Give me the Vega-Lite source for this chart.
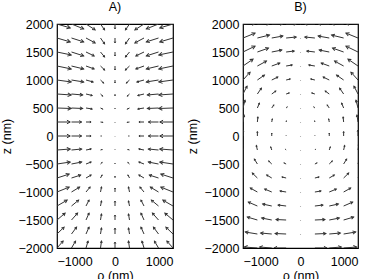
{
  "$schema": "https://vega.github.io/schema/vega-lite/v6.json",
  "padding": {"left": 0, "top": -1, "right": 5, "bottom": 0},
  "spacing": 12,
  "config": {
    "font": "Liberation Sans",
    "view": {"stroke": "#000", "strokeWidth": 1.2},
    "axis": {
      "grid": false, "ticks": false, "domain": false, "format": "d",
      "labelFont": "Liberation Sans", "labelFontSize": 12.5, "labelColor": "#000",
      "titleFont": "Liberation Sans", "titleFontSize": 12.5, "titleFontWeight": "normal", "titleColor": "#000"
    },
    "title": {"font": "Liberation Sans", "fontSize": 12.5, "fontWeight": "normal", "color": "#000", "offset": 5}
  },
  "datasets": {
    "field": [
      {"p":"A","r":-1000,"z":2000,"u":13,"w":-4},{"p":"A","r":-750,"z":2000,"u":12,"w":-5},{"p":"A","r":-500,"z":2000,"u":9,"w":-6},{"p":"A","r":-250,"z":2000,"u":4,"w":-6},{"p":"A","r":0,"z":2000,"u":0,"w":-5},{"p":"A","r":250,"z":2000,"u":-4,"w":-6},{"p":"A","r":500,"z":2000,"u":-9,"w":-6},{"p":"A","r":750,"z":2000,"u":-12,"w":-5},{"p":"A","r":1000,"z":2000,"u":-13,"w":-4},
      {"p":"A","r":-1000,"z":1750,"u":13,"w":-4},{"p":"A","r":-750,"z":1750,"u":12,"w":-4},{"p":"A","r":-500,"z":1750,"u":9,"w":-5},{"p":"A","r":-250,"z":1750,"u":4,"w":-6},{"p":"A","r":0,"z":1750,"u":0,"w":-5},{"p":"A","r":250,"z":1750,"u":-4,"w":-6},{"p":"A","r":500,"z":1750,"u":-9,"w":-5},{"p":"A","r":750,"z":1750,"u":-12,"w":-4},{"p":"A","r":1000,"z":1750,"u":-13,"w":-4},
      {"p":"A","r":-1000,"z":1500,"u":14,"w":-3},{"p":"A","r":-750,"z":1500,"u":12,"w":-4},{"p":"A","r":-500,"z":1500,"u":8,"w":-4},{"p":"A","r":-250,"z":1500,"u":4,"w":-5},{"p":"A","r":0,"z":1500,"u":0,"w":-4},{"p":"A","r":250,"z":1500,"u":-4,"w":-5},{"p":"A","r":500,"z":1500,"u":-8,"w":-4},{"p":"A","r":750,"z":1500,"u":-12,"w":-4},{"p":"A","r":1000,"z":1500,"u":-14,"w":-3},
      {"p":"A","r":-1000,"z":1250,"u":14,"w":-3},{"p":"A","r":-750,"z":1250,"u":12,"w":-3},{"p":"A","r":-500,"z":1250,"u":8,"w":-3},{"p":"A","r":-250,"z":1250,"u":4,"w":-4},{"p":"A","r":0,"z":1250,"u":0,"w":-4},{"p":"A","r":250,"z":1250,"u":-4,"w":-4},{"p":"A","r":500,"z":1250,"u":-8,"w":-3},{"p":"A","r":750,"z":1250,"u":-12,"w":-3},{"p":"A","r":1000,"z":1250,"u":-14,"w":-3},
      {"p":"A","r":-1000,"z":1000,"u":14,"w":-2},{"p":"A","r":-750,"z":1000,"u":12,"w":-2},{"p":"A","r":-500,"z":1000,"u":7,"w":-2},{"p":"A","r":-250,"z":1000,"u":3,"w":-3},{"p":"A","r":0,"z":1000,"u":0,"w":-3},{"p":"A","r":250,"z":1000,"u":-3,"w":-3},{"p":"A","r":500,"z":1000,"u":-7,"w":-2},{"p":"A","r":750,"z":1000,"u":-12,"w":-2},{"p":"A","r":1000,"z":1000,"u":-14,"w":-2},
      {"p":"A","r":-1000,"z":750,"u":14,"w":-1},{"p":"A","r":-750,"z":750,"u":11,"w":-1},{"p":"A","r":-500,"z":750,"u":6,"w":-1.5},{"p":"A","r":-250,"z":750,"u":2,"w":-2},{"p":"A","r":0,"z":750,"u":0,"w":-2},{"p":"A","r":250,"z":750,"u":-2,"w":-2},{"p":"A","r":500,"z":750,"u":-6,"w":-1.5},{"p":"A","r":750,"z":750,"u":-11,"w":-1},{"p":"A","r":1000,"z":750,"u":-14,"w":-1},
      {"p":"A","r":-1000,"z":500,"u":14,"w":-0.5},{"p":"A","r":-750,"z":500,"u":11,"w":-0.5},{"p":"A","r":-500,"z":500,"u":6,"w":-1},{"p":"A","r":-250,"z":500,"u":2,"w":-1},{"p":"A","r":0,"z":500,"u":0,"w":-1},{"p":"A","r":250,"z":500,"u":-2,"w":-1},{"p":"A","r":500,"z":500,"u":-6,"w":-1},{"p":"A","r":750,"z":500,"u":-11,"w":-0.5},{"p":"A","r":1000,"z":500,"u":-14,"w":-0.5},
      {"p":"A","r":-1000,"z":250,"u":13,"w":0},{"p":"A","r":-750,"z":250,"u":10,"w":0},{"p":"A","r":-500,"z":250,"u":5,"w":0},{"p":"A","r":-250,"z":250,"u":2,"w":-0.3},{"p":"A","r":0,"z":250,"u":0,"w":-0.5},{"p":"A","r":250,"z":250,"u":-2,"w":-0.3},{"p":"A","r":500,"z":250,"u":-5,"w":0},{"p":"A","r":750,"z":250,"u":-10,"w":0},{"p":"A","r":1000,"z":250,"u":-13,"w":0},
      {"p":"A","r":-1000,"z":0,"u":13,"w":0},{"p":"A","r":-750,"z":0,"u":10,"w":0},{"p":"A","r":-500,"z":0,"u":5,"w":0},{"p":"A","r":-250,"z":0,"u":1,"w":0},{"p":"A","r":0,"z":0,"u":0,"w":-0.3},{"p":"A","r":250,"z":0,"u":-1,"w":0},{"p":"A","r":500,"z":0,"u":-5,"w":0},{"p":"A","r":750,"z":0,"u":-10,"w":0},{"p":"A","r":1000,"z":0,"u":-13,"w":0},
      {"p":"A","r":-1000,"z":-250,"u":13,"w":1},{"p":"A","r":-750,"z":-250,"u":10,"w":1},{"p":"A","r":-500,"z":-250,"u":5,"w":1},{"p":"A","r":-250,"z":-250,"u":1.5,"w":0.5},{"p":"A","r":0,"z":-250,"u":0,"w":0.5},{"p":"A","r":250,"z":-250,"u":-1.5,"w":0.5},{"p":"A","r":500,"z":-250,"u":-5,"w":1},{"p":"A","r":750,"z":-250,"u":-10,"w":1},{"p":"A","r":1000,"z":-250,"u":-13,"w":1},
      {"p":"A","r":-1000,"z":-500,"u":13,"w":2},{"p":"A","r":-750,"z":-500,"u":10,"w":2},{"p":"A","r":-500,"z":-500,"u":5,"w":2},{"p":"A","r":-250,"z":-500,"u":1.5,"w":1.5},{"p":"A","r":0,"z":-500,"u":0,"w":1},{"p":"A","r":250,"z":-500,"u":-1.5,"w":1.5},{"p":"A","r":500,"z":-500,"u":-5,"w":2},{"p":"A","r":750,"z":-500,"u":-10,"w":2},{"p":"A","r":1000,"z":-500,"u":-13,"w":2},
      {"p":"A","r":-1000,"z":-750,"u":12,"w":4},{"p":"A","r":-750,"z":-750,"u":9,"w":3},{"p":"A","r":-500,"z":-750,"u":5,"w":3},{"p":"A","r":-250,"z":-750,"u":1.5,"w":3},{"p":"A","r":0,"z":-750,"u":0,"w":2},{"p":"A","r":250,"z":-750,"u":-1.5,"w":3},{"p":"A","r":500,"z":-750,"u":-5,"w":3},{"p":"A","r":750,"z":-750,"u":-9,"w":3},{"p":"A","r":1000,"z":-750,"u":-12,"w":4},
      {"p":"A","r":-1000,"z":-1000,"u":12,"w":5},{"p":"A","r":-750,"z":-1000,"u":8,"w":5},{"p":"A","r":-500,"z":-1000,"u":4,"w":5},{"p":"A","r":-250,"z":-1000,"u":1,"w":5},{"p":"A","r":0,"z":-1000,"u":0,"w":4},{"p":"A","r":250,"z":-1000,"u":-1,"w":5},{"p":"A","r":500,"z":-1000,"u":-4,"w":5},{"p":"A","r":750,"z":-1000,"u":-8,"w":5},{"p":"A","r":1000,"z":-1000,"u":-12,"w":5},
      {"p":"A","r":-1000,"z":-1250,"u":10,"w":6},{"p":"A","r":-750,"z":-1250,"u":7,"w":6},{"p":"A","r":-500,"z":-1250,"u":3,"w":6},{"p":"A","r":-250,"z":-1250,"u":1,"w":5},{"p":"A","r":0,"z":-1250,"u":0,"w":5},{"p":"A","r":250,"z":-1250,"u":-1,"w":5},{"p":"A","r":500,"z":-1250,"u":-3,"w":6},{"p":"A","r":750,"z":-1250,"u":-7,"w":6},{"p":"A","r":1000,"z":-1250,"u":-10,"w":6},
      {"p":"A","r":-1000,"z":-1500,"u":8,"w":7},{"p":"A","r":-750,"z":-1500,"u":6,"w":7},{"p":"A","r":-500,"z":-1500,"u":3,"w":7},{"p":"A","r":-250,"z":-1500,"u":1,"w":6},{"p":"A","r":0,"z":-1500,"u":0,"w":5},{"p":"A","r":250,"z":-1500,"u":-1,"w":6},{"p":"A","r":500,"z":-1500,"u":-3,"w":7},{"p":"A","r":750,"z":-1500,"u":-6,"w":7},{"p":"A","r":1000,"z":-1500,"u":-8,"w":7},
      {"p":"A","r":-1000,"z":-1750,"u":7,"w":7},{"p":"A","r":-750,"z":-1750,"u":5,"w":7},{"p":"A","r":-500,"z":-1750,"u":3,"w":7},{"p":"A","r":-250,"z":-1750,"u":1,"w":6},{"p":"A","r":0,"z":-1750,"u":0,"w":6},{"p":"A","r":250,"z":-1750,"u":-1,"w":6},{"p":"A","r":500,"z":-1750,"u":-3,"w":7},{"p":"A","r":750,"z":-1750,"u":-5,"w":7},{"p":"A","r":1000,"z":-1750,"u":-7,"w":7},
      {"p":"A","r":-1000,"z":-2000,"u":6,"w":7},{"p":"A","r":-750,"z":-2000,"u":4,"w":7},{"p":"A","r":-500,"z":-2000,"u":2,"w":7},{"p":"A","r":-250,"z":-2000,"u":1,"w":7},{"p":"A","r":0,"z":-2000,"u":0,"w":6},{"p":"A","r":250,"z":-2000,"u":-1,"w":7},{"p":"A","r":500,"z":-2000,"u":-2,"w":7},{"p":"A","r":750,"z":-2000,"u":-4,"w":7},{"p":"A","r":1000,"z":-2000,"u":-6,"w":7},

      {"p":"B","r":-1000,"z":2000,"u":12,"w":0.5},{"p":"B","r":-750,"z":2000,"u":12,"w":0.5},{"p":"B","r":-500,"z":2000,"u":11,"w":0.3},{"p":"B","r":-250,"z":2000,"u":10,"w":0.2},{"p":"B","r":0,"z":2000,"u":0,"w":-0.3},{"p":"B","r":250,"z":2000,"u":-10,"w":0.2},{"p":"B","r":500,"z":2000,"u":-11,"w":0.3},{"p":"B","r":750,"z":2000,"u":-12,"w":0.5},{"p":"B","r":1000,"z":2000,"u":-12,"w":0.5},
      {"p":"B","r":-1000,"z":1750,"u":12,"w":5},{"p":"B","r":-750,"z":1750,"u":12,"w":3},{"p":"B","r":-500,"z":1750,"u":11,"w":2},{"p":"B","r":-250,"z":1750,"u":10,"w":1},{"p":"B","r":0,"z":1750,"u":0,"w":-0.3},{"p":"B","r":250,"z":1750,"u":-10,"w":1},{"p":"B","r":500,"z":1750,"u":-11,"w":2},{"p":"B","r":750,"z":1750,"u":-12,"w":3},{"p":"B","r":1000,"z":1750,"u":-12,"w":5},
      {"p":"B","r":-1000,"z":1500,"u":12,"w":6},{"p":"B","r":-750,"z":1500,"u":11,"w":4},{"p":"B","r":-500,"z":1500,"u":10,"w":2},{"p":"B","r":-250,"z":1500,"u":8,"w":1},{"p":"B","r":0,"z":1500,"u":0,"w":-0.3},{"p":"B","r":250,"z":1500,"u":-8,"w":1},{"p":"B","r":500,"z":1500,"u":-10,"w":2},{"p":"B","r":750,"z":1500,"u":-11,"w":4},{"p":"B","r":1000,"z":1500,"u":-12,"w":6},
      {"p":"B","r":-1000,"z":1250,"u":10,"w":7},{"p":"B","r":-750,"z":1250,"u":9,"w":5},{"p":"B","r":-500,"z":1250,"u":8,"w":3},{"p":"B","r":-250,"z":1250,"u":6,"w":1},{"p":"B","r":0,"z":1250,"u":0,"w":-0.3},{"p":"B","r":250,"z":1250,"u":-6,"w":1},{"p":"B","r":500,"z":1250,"u":-8,"w":3},{"p":"B","r":750,"z":1250,"u":-9,"w":5},{"p":"B","r":1000,"z":1250,"u":-10,"w":7},
      {"p":"B","r":-1000,"z":1000,"u":7,"w":8},{"p":"B","r":-750,"z":1000,"u":7,"w":5},{"p":"B","r":-500,"z":1000,"u":6,"w":3},{"p":"B","r":-250,"z":1000,"u":4,"w":1},{"p":"B","r":0,"z":1000,"u":0,"w":-0.3},{"p":"B","r":250,"z":1000,"u":-4,"w":1},{"p":"B","r":500,"z":1000,"u":-6,"w":3},{"p":"B","r":750,"z":1000,"u":-7,"w":5},{"p":"B","r":1000,"z":1000,"u":-7,"w":8},
      {"p":"B","r":-1000,"z":750,"u":4,"w":8},{"p":"B","r":-750,"z":750,"u":4,"w":6},{"p":"B","r":-500,"z":750,"u":4,"w":3},{"p":"B","r":-250,"z":750,"u":3,"w":1},{"p":"B","r":0,"z":750,"u":0,"w":-0.3},{"p":"B","r":250,"z":750,"u":-3,"w":1},{"p":"B","r":500,"z":750,"u":-4,"w":3},{"p":"B","r":750,"z":750,"u":-4,"w":6},{"p":"B","r":1000,"z":750,"u":-4,"w":8},
      {"p":"B","r":-1000,"z":500,"u":2,"w":8},{"p":"B","r":-750,"z":500,"u":2,"w":5},{"p":"B","r":-500,"z":500,"u":2,"w":3},{"p":"B","r":-250,"z":500,"u":1,"w":1},{"p":"B","r":0,"z":500,"u":0,"w":-0.3},{"p":"B","r":250,"z":500,"u":-1,"w":1},{"p":"B","r":500,"z":500,"u":-2,"w":3},{"p":"B","r":750,"z":500,"u":-2,"w":5},{"p":"B","r":1000,"z":500,"u":-2,"w":8},
      {"p":"B","r":-1000,"z":250,"u":1,"w":7},{"p":"B","r":-750,"z":250,"u":0.5,"w":5},{"p":"B","r":-500,"z":250,"u":0.5,"w":3},{"p":"B","r":-250,"z":250,"u":0.2,"w":1},{"p":"B","r":0,"z":250,"u":0,"w":-0.3},{"p":"B","r":250,"z":250,"u":-0.2,"w":1},{"p":"B","r":500,"z":250,"u":-0.5,"w":3},{"p":"B","r":750,"z":250,"u":-0.5,"w":5},{"p":"B","r":1000,"z":250,"u":-1,"w":7},
      {"p":"B","r":-1000,"z":0,"u":0,"w":6},{"p":"B","r":-750,"z":0,"u":0,"w":4.5},{"p":"B","r":-500,"z":0,"u":0,"w":3},{"p":"B","r":-250,"z":0,"u":0,"w":0.5},{"p":"B","r":0,"z":0,"u":0,"w":-0.3},{"p":"B","r":250,"z":0,"u":0,"w":0.5},{"p":"B","r":500,"z":0,"u":0,"w":3},{"p":"B","r":750,"z":0,"u":0,"w":4.5},{"p":"B","r":1000,"z":0,"u":0,"w":6},
      {"p":"B","r":-1000,"z":-250,"u":-1,"w":6},{"p":"B","r":-750,"z":-250,"u":-1,"w":4.5},{"p":"B","r":-500,"z":-250,"u":-1,"w":3},{"p":"B","r":-250,"z":-250,"u":-0.5,"w":0.5},{"p":"B","r":0,"z":-250,"u":0,"w":-0.3},{"p":"B","r":250,"z":-250,"u":0.5,"w":0.5},{"p":"B","r":500,"z":-250,"u":1,"w":3},{"p":"B","r":750,"z":-250,"u":1,"w":4.5},{"p":"B","r":1000,"z":-250,"u":1,"w":6},
      {"p":"B","r":-1000,"z":-500,"u":-2,"w":7},{"p":"B","r":-750,"z":-500,"u":-3,"w":5},{"p":"B","r":-500,"z":-500,"u":-3,"w":3},{"p":"B","r":-250,"z":-500,"u":-2,"w":1},{"p":"B","r":0,"z":-500,"u":0,"w":-0.3},{"p":"B","r":250,"z":-500,"u":2,"w":1},{"p":"B","r":500,"z":-500,"u":3,"w":3},{"p":"B","r":750,"z":-500,"u":3,"w":5},{"p":"B","r":1000,"z":-500,"u":2,"w":7},
      {"p":"B","r":-1000,"z":-750,"u":-4,"w":7},{"p":"B","r":-750,"z":-750,"u":-5,"w":5},{"p":"B","r":-500,"z":-750,"u":-5,"w":3},{"p":"B","r":-250,"z":-750,"u":-4,"w":1},{"p":"B","r":0,"z":-750,"u":0,"w":-0.3},{"p":"B","r":250,"z":-750,"u":4,"w":1},{"p":"B","r":500,"z":-750,"u":5,"w":3},{"p":"B","r":750,"z":-750,"u":5,"w":5},{"p":"B","r":1000,"z":-750,"u":4,"w":7},
      {"p":"B","r":-1000,"z":-1000,"u":-6,"w":6},{"p":"B","r":-750,"z":-1000,"u":-7,"w":4},{"p":"B","r":-500,"z":-1000,"u":-7,"w":3},{"p":"B","r":-250,"z":-1000,"u":-6,"w":1},{"p":"B","r":0,"z":-1000,"u":0,"w":-0.3},{"p":"B","r":250,"z":-1000,"u":6,"w":1},{"p":"B","r":500,"z":-1000,"u":7,"w":3},{"p":"B","r":750,"z":-1000,"u":7,"w":4},{"p":"B","r":1000,"z":-1000,"u":6,"w":6},
      {"p":"B","r":-1000,"z":-1250,"u":-8,"w":5},{"p":"B","r":-750,"z":-1250,"u":-9,"w":4},{"p":"B","r":-500,"z":-1250,"u":-9,"w":2},{"p":"B","r":-250,"z":-1250,"u":-8,"w":1},{"p":"B","r":0,"z":-1250,"u":0,"w":-0.3},{"p":"B","r":250,"z":-1250,"u":8,"w":1},{"p":"B","r":500,"z":-1250,"u":9,"w":2},{"p":"B","r":750,"z":-1250,"u":9,"w":4},{"p":"B","r":1000,"z":-1250,"u":8,"w":5},
      {"p":"B","r":-1000,"z":-1500,"u":-10,"w":4},{"p":"B","r":-750,"z":-1500,"u":-10,"w":3},{"p":"B","r":-500,"z":-1500,"u":-10,"w":2},{"p":"B","r":-250,"z":-1500,"u":-10,"w":0.5},{"p":"B","r":0,"z":-1500,"u":0,"w":-0.3},{"p":"B","r":250,"z":-1500,"u":10,"w":0.5},{"p":"B","r":500,"z":-1500,"u":10,"w":2},{"p":"B","r":750,"z":-1500,"u":10,"w":3},{"p":"B","r":1000,"z":-1500,"u":10,"w":4},
      {"p":"B","r":-1000,"z":-1750,"u":-12,"w":3},{"p":"B","r":-750,"z":-1750,"u":-12,"w":2},{"p":"B","r":-500,"z":-1750,"u":-11,"w":1},{"p":"B","r":-250,"z":-1750,"u":-11,"w":0.5},{"p":"B","r":0,"z":-1750,"u":0,"w":-0.3},{"p":"B","r":250,"z":-1750,"u":11,"w":0.5},{"p":"B","r":500,"z":-1750,"u":11,"w":1},{"p":"B","r":750,"z":-1750,"u":12,"w":2},{"p":"B","r":1000,"z":-1750,"u":12,"w":3},
      {"p":"B","r":-1000,"z":-2000,"u":-13,"w":2},{"p":"B","r":-750,"z":-2000,"u":-13,"w":1},{"p":"B","r":-500,"z":-2000,"u":-12,"w":1},{"p":"B","r":-250,"z":-2000,"u":-12,"w":0},{"p":"B","r":0,"z":-2000,"u":0,"w":-0.3},{"p":"B","r":250,"z":-2000,"u":12,"w":0},{"p":"B","r":500,"z":-2000,"u":12,"w":1},{"p":"B","r":750,"z":-2000,"u":13,"w":1},{"p":"B","r":1000,"z":-2000,"u":13,"w":2}
    ]
  },
  "hconcat": [
    {
      "title": "A)",
      "width": 116,
      "height": 224,
      "data": {"name": "field"},
      "transform": [
        {"filter": "datum.p === 'A'"},
        {"calculate": "datum.r + 17.5 * datum.u", "as": "r2"},
        {"calculate": "datum.z + 17.5 * datum.w", "as": "z2"},
        {"calculate": "atan2(-datum.w, datum.u) * 180 / PI", "as": "ang"},
        {"calculate": "0.25 * (datum.u * datum.u + datum.w * datum.w)", "as": "hs"}
      ],
      "encoding": {
        "x": {"field": "r", "type": "quantitative", "scale": {"domain": [-1000, 1000], "nice": false, "zero": false},
              "axis": {"values": [-1000, 0, 1000], "title": "ρ (nm)", "labelPadding": 7, "titlePadding": 2}},
        "y": {"field": "z", "type": "quantitative", "scale": {"domain": [-2000, 2000], "nice": false, "zero": false},
              "axis": {"values": [-2000, -1500, -1000, -500, 0, 500, 1000, 1500, 2000], "title": "z (nm)", "labelPadding": 4, "titlePadding": 4}}
      },
      "layer": [
        {"mark": {"type": "rule", "clip": true, "color": "#333", "strokeWidth": 1},
         "encoding": {"x2": {"field": "r2"}, "y2": {"field": "z2"}}},
        {"mark": {"type": "point", "shape": "M-1,-0.55L0,0L-1,0.55", "filled": false, "clip": true, "color": "#333", "strokeWidth": 1, "opacity": 1},
         "encoding": {
           "x": {"field": "r2", "type": "quantitative"},
           "y": {"field": "z2", "type": "quantitative"},
           "angle": {"field": "ang", "type": "quantitative", "scale": null},
           "size": {"field": "hs", "type": "quantitative", "scale": null}
         }}
      ]
    },
    {
      "title": "B)",
      "width": 115,
      "height": 224,
      "data": {"name": "field"},
      "transform": [
        {"filter": "datum.p === 'B'"},
        {"calculate": "datum.r + 17.5 * datum.u", "as": "r2"},
        {"calculate": "datum.z + 17.5 * datum.w", "as": "z2"},
        {"calculate": "atan2(-datum.w, datum.u) * 180 / PI", "as": "ang"},
        {"calculate": "0.25 * (datum.u * datum.u + datum.w * datum.w)", "as": "hs"}
      ],
      "encoding": {
        "x": {"field": "r", "type": "quantitative", "scale": {"domain": [-1000, 1000], "nice": false, "zero": false},
              "axis": {"values": [-1000, 0, 1000], "title": "ρ (nm)", "labelPadding": 7, "titlePadding": 2}},
        "y": {"field": "z", "type": "quantitative", "scale": {"domain": [-2000, 2000], "nice": false, "zero": false},
              "axis": {"values": [-2000, -1500, -1000, -500, 0, 500, 1000, 1500, 2000], "title": "z (nm)", "labelPadding": 4, "titlePadding": 4}}
      },
      "layer": [
        {"mark": {"type": "rule", "clip": true, "color": "#333", "strokeWidth": 1},
         "encoding": {"x2": {"field": "r2"}, "y2": {"field": "z2"}}},
        {"mark": {"type": "point", "shape": "M-1,-0.55L0,0L-1,0.55", "filled": false, "clip": true, "color": "#333", "strokeWidth": 1, "opacity": 1},
         "encoding": {
           "x": {"field": "r2", "type": "quantitative"},
           "y": {"field": "z2", "type": "quantitative"},
           "angle": {"field": "ang", "type": "quantitative", "scale": null},
           "size": {"field": "hs", "type": "quantitative", "scale": null}
         }}
      ]
    }
  ]
}
